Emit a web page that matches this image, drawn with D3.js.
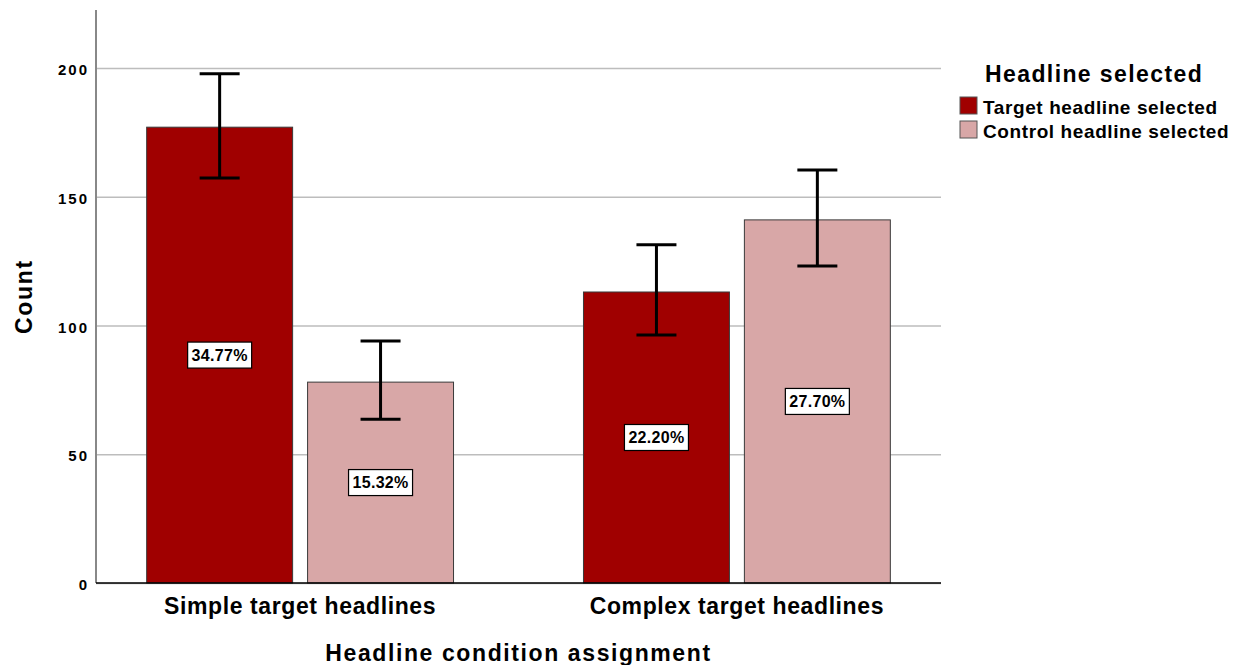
<!DOCTYPE html>
<html>
<head>
<meta charset="utf-8">
<script src="https://cdn.jsdelivr.net/npm/d3@7"></script>
<style>
  body { margin: 0; background: #fff; }
  svg text { font-family: "Liberation Sans", Arial, sans-serif; font-weight: bold; fill: #000; }
</style>
</head>
<body>
<svg id="chart" width="1237" height="665"></svg>
<script>
// data
var groups = ["Simple target headlines", "Complex target headlines"];
var series = ["Target headline selected", "Control headline selected"];
var targetCounts = [177, 113];
var controlCounts = [78, 141];
var targetLow = [157.3, 96.3];
var targetHigh = [197.7, 131.3];
var controlLow = [63.6, 123.1];
var controlHigh = [94, 160.4];
var yTicks = [0, 50, 100, 150, 200];
var colors = ["#a00000", "#d8a7a7"];

var total = d3.sum(targetCounts) + d3.sum(controlCounts);

var rows = [];
groups.forEach(function (g, i) {
    rows.push({group: g, series: series[0], value: targetCounts[i], lo: targetLow[i], hi: targetHigh[i]});
    rows.push({group: g, series: series[1], value: controlCounts[i], lo: controlLow[i], hi: controlHigh[i]});
});

var svg = d3.select("#chart"),
    plotLeft = 96, plotRight = 941, plotTop = 10, plotBottom = 583;

var y = d3.scaleLinear().domain([0, 222.5]).range([plotBottom, plotTop]);
var x0 = d3.scaleBand().domain(groups).range([plotLeft, plotRight])
    .paddingInner(0.2975).paddingOuter(0.116);
var x1 = d3.scaleBand().domain(series).range([0, x0.bandwidth()]).paddingInner(0.093);
var color = d3.scaleOrdinal().domain(series).range(colors);

// gridlines + tick labels
var yAxis = svg.append("g")
    .attr("transform", "translate(" + plotLeft + ",0)")
    .call(d3.axisLeft(y).tickValues(yTicks).tickSize(-(plotRight - plotLeft)).tickPadding(7));
yAxis.select(".domain").remove();
yAxis.selectAll(".tick line").attr("stroke", "#bdbdbd").attr("stroke-width", 1.5);
yAxis.selectAll(".tick text")
    .attr("dy", "0.45em")
    .style("font-size", "15px")
    .style("letter-spacing", "2px")
    .style("font-family", "'Liberation Sans', Arial, sans-serif")
    .style("font-weight", "bold")
    .attr("fill", "#000");

// y axis line
svg.append("line")
    .attr("x1", plotLeft).attr("x2", plotLeft)
    .attr("y1", plotTop).attr("y2", plotBottom)
    .attr("stroke", "#888").attr("stroke-width", 2);

// bars
var bar = svg.append("g").selectAll("g")
    .data(rows).enter().append("g")
    .attr("transform", function (d) { return "translate(" + (x0(d.group) + x1(d.series)) + ",0)"; });

bar.append("rect")
    .attr("x", 0)
    .attr("y", function (d) { return y(d.value); })
    .attr("width", x1.bandwidth())
    .attr("height", function (d) { return y(0) - y(d.value); })
    .attr("fill", function (d) { return color(d.series); })
    .attr("stroke", "#3a3a3a")
    .attr("stroke-width", 1);

// percentage labels
var bw = x1.bandwidth();
bar.append("rect")
    .attr("x", bw / 2 - 32)
    .attr("y", function (d) { return y(d.value / 2) - 13; })
    .attr("width", 64).attr("height", 26)
    .attr("fill", "#fff").attr("stroke", "#000").attr("stroke-width", 1.2);
bar.append("text")
    .attr("x", bw / 2)
    .attr("y", function (d) { return y(d.value / 2); })
    .attr("dy", "0.36em")
    .attr("text-anchor", "middle")
    .style("font-size", "16px")
    .style("letter-spacing", "0.3px")
    .text(function (d) { return (d.value / total * 100).toFixed(2) + "%"; });

// error bars
var err = bar.append("g").attr("stroke", "#000").attr("stroke-width", 3);
err.append("line")
    .attr("x1", bw / 2).attr("x2", bw / 2)
    .attr("y1", function (d) { return y(d.lo); })
    .attr("y2", function (d) { return y(d.hi); });
err.append("line")
    .attr("x1", bw / 2 - 20).attr("x2", bw / 2 + 20)
    .attr("y1", function (d) { return y(d.hi); })
    .attr("y2", function (d) { return y(d.hi); });
err.append("line")
    .attr("x1", bw / 2 - 20).attr("x2", bw / 2 + 20)
    .attr("y1", function (d) { return y(d.lo); })
    .attr("y2", function (d) { return y(d.lo); });

// x axis line
svg.append("line")
    .attr("x1", plotLeft).attr("x2", plotRight)
    .attr("y1", plotBottom).attr("y2", plotBottom)
    .attr("stroke", "#000").attr("stroke-width", 1.5);

// category labels
svg.append("g").selectAll("text")
    .data(groups).enter().append("text")
    .attr("x", function (d) { return x0(d) + x0.bandwidth() / 2; })
    .attr("y", 614)
    .attr("text-anchor", "middle")
    .style("font-size", "23px")
    .style("letter-spacing", "0.6px")
    .text(function (d) { return d; });

// axis titles
svg.append("text")
    .attr("x", (plotLeft + plotRight) / 2)
    .attr("y", 661)
    .attr("text-anchor", "middle")
    .style("font-size", "23px")
    .style("letter-spacing", "1.6px")
    .text("Headline condition assignment");

svg.append("text")
    .attr("transform", "translate(32," + ((plotTop + plotBottom) / 2) + ") rotate(-90)")
    .attr("text-anchor", "middle")
    .style("font-size", "23px")
    .style("letter-spacing", "1.7px")
    .text("Count");

// legend
svg.append("text")
    .attr("x", 985).attr("y", 82)
    .style("font-size", "23px")
    .style("letter-spacing", "1.4px")
    .text("Headline selected");

var leg = svg.append("g").selectAll("g")
    .data(series).enter().append("g")
    .attr("transform", function (d, i) { return "translate(960," + (97 + i * 24) + ")"; });
leg.append("rect")
    .attr("width", 17).attr("height", 17)
    .attr("fill", function (d) { return color(d); })
    .attr("stroke", "#555").attr("stroke-width", 1);
leg.append("text")
    .attr("x", 23).attr("y", 17)
    .style("font-size", "19px")
    .style("letter-spacing", "0.6px")
    .text(function (d) { return d; });
</script>
</body>
</html>
